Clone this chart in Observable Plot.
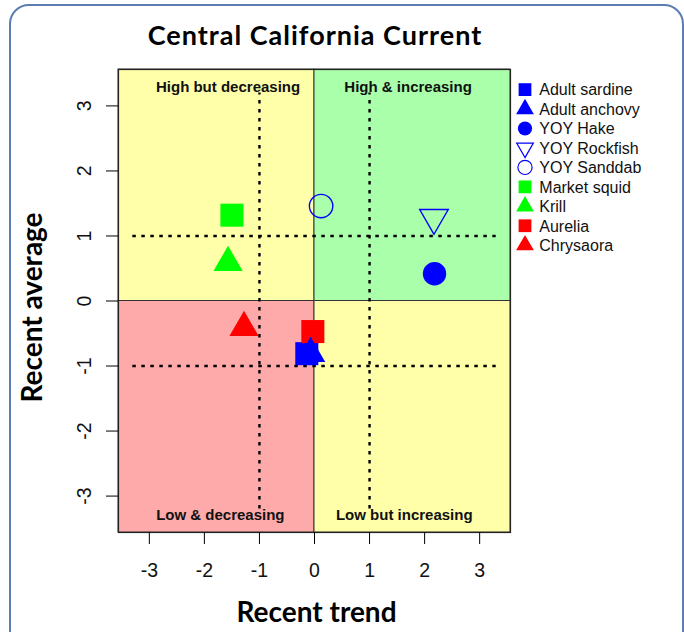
<!DOCTYPE html>
<html>
<head>
<meta charset="utf-8">
<script src="https://cdn.jsdelivr.net/npm/d3@7"></script>
<script src="https://cdn.jsdelivr.net/npm/@observablehq/plot@0.6"></script>
<style>
  html, body { margin: 0; padding: 0; background: #fff; }
  #wrap { position: relative; width: 684px; height: 632px; overflow: hidden; background: #fff; }
  #title {
    position: absolute; left: 119px; width: 392px; top: 21px;
    text-align: center; font-family: Lato, "Open Sans", sans-serif; font-weight: bold;
    font-size: 27px; line-height: 27px; letter-spacing: 1px; color: #000; white-space: nowrap;
  }
  #chart { position: absolute; left: 0; top: 61px; }
  #legend { position: absolute; left: 512px; top: 78px; }
  #border {
    position: absolute; left: 9px; top: 4px; width: 675px; height: 700px; box-sizing: border-box;
    border: 2px solid #5b7db1; border-radius: 20px; pointer-events: none;
  }
</style>
</head>
<body>
<div id="wrap">
  <div id="title">Central California Current</div>
  <div id="chart"></div>
  <div id="legend"></div>
  <div id="border"></div>
</div>
<script>
// Species indicators: recent trend (x) against recent average (y)
const species = ["Adult sardine", "Adult anchovy", "YOY Hake", "YOY Rockfish", "YOY Sanddab",
                 "Market squid", "Krill", "Aurelia", "Chrysaora"];
const recentTrend   = [-0.14, -0.07, 2.18, 2.17, 0.12, -1.50, -1.57, -0.03, -1.28];
const recentAverage = [-0.81, -0.81, 0.42, 1.28, 1.46, 1.32, 0.59, -0.47, -0.41];

const xTicks = [-3, -2, -1, 0, 1, 2, 3];
const yTicks = [-3, -2, -1, 0, 1, 2, 3];
const thresholds = [-1, 1];

const quadrantNames = ["High but decreasing", "High & increasing", "Low & decreasing", "Low but increasing"];

// Axis limits (symmetric about zero)
const lim = 3.56;

// Marker encoding per species
const marker = {
  "Adult sardine": {shape: "square", color: "#0000ff"},
  "Adult anchovy": {shape: "triangle", color: "#0000ff"},
  "YOY Hake":      {shape: "circle", color: "#0000ff"},
  "YOY Rockfish":  {shape: "triangleDown", color: "#0000ff", open: true},
  "YOY Sanddab":   {shape: "circle", color: "#0000ff", open: true},
  "Market squid":  {shape: "square", color: "#00ff00"},
  "Krill":         {shape: "triangle", color: "#00ff00"},
  "Aurelia":       {shape: "square", color: "#ff0000"},
  "Chrysaora":     {shape: "triangle", color: "#ff0000"}
};

// Downward-pointing triangle, same geometry as d3.symbolTriangle flipped
const symbolTriangleDown = {
  draw(context, size) {
    const s3 = Math.sqrt(3);
    const y = -Math.sqrt(size / (s3 * 3));
    context.moveTo(0, -y * 2);
    context.lineTo(-s3 * y, y);
    context.lineTo(s3 * y, y);
    context.closePath();
  }
};
const shapeNames = ["square", "triangle", "circle", "triangleDown"];
const shapeSymbols = [d3.symbolSquare, d3.symbolTriangle, d3.symbolCircle, symbolTriangleDown];
const shapeRadius = {square: 13, triangle: 10.85, circle: 11.7, triangleDown: 10.6};
const legendRadius = {square: 7.2, triangle: 6.6, circle: 7.1, triangleDown: 6.2};

const points = species.map((name, i) => ({name, trend: recentTrend[i], average: recentAverage[i]}));

const quadrants = [
  {x1: -lim, x2: 0, y1: 0, y2: lim, fill: "#ffffaa"},
  {x1: 0, x2: lim, y1: 0, y2: lim, fill: "#aaffaa"},
  {x1: -lim, x2: 0, y1: -lim, y2: 0, fill: "#ffaaaa"},
  {x1: 0, x2: lim, y1: -lim, y2: 0, fill: "#ffffaa"}
];
const quadrantLabelAt = [[-1.57, 3.29], [1.70, 3.29], [-1.71, -3.30], [1.63, -3.30]];
const quadrantLabels = quadrantNames.map((label, i) => ({label, x: quadrantLabelAt[i][0], y: quadrantLabelAt[i][1]}));

const titleFont = "Lato, 'Open Sans', sans-serif";

const chart = Plot.plot({
  width: 684,
  height: 571,
  marginLeft: 118,
  marginRight: 174,
  marginTop: 8,
  marginBottom: 100,
  x: {domain: [-lim, lim]},
  y: {domain: [-lim, lim]},
  symbol: {domain: shapeNames, range: shapeSymbols},
  r: {type: "linear", domain: [0, 100], range: [0, 100]},
  color: {type: "identity"},
  style: {fontFamily: "'Liberation Sans', Arial, sans-serif", background: "transparent", color: "#000"},
  marks: [
    Plot.rect(quadrants, {x1: "x1", x2: "x2", y1: "y1", y2: "y2", fill: "fill", stroke: "#333", strokeWidth: 1}),
    Plot.ruleX(thresholds, {x: d => d, y1: -3.2, y2: 3.2, stroke: "#000", strokeWidth: 2.4, strokeDasharray: "3.5,5.5"}),
    Plot.ruleY(thresholds, {y: d => d, x1: -3.3, x2: 3.3, stroke: "#000", strokeWidth: 2.4, strokeDasharray: "3.5,5.5"}),
    Plot.text(quadrantLabels, {x: "x", y: "y", text: "label", fontSize: 15, fontWeight: "bold", fill: "#111"}),
    Plot.dot(points, {
      x: "trend", y: "average",
      symbol: d => marker[d.name].shape,
      r: d => shapeRadius[marker[d.name].shape],
      fill: d => marker[d.name].open ? "none" : marker[d.name].color,
      stroke: d => marker[d.name].open ? marker[d.name].color : "none",
      strokeWidth: 1.4
    }),
    Plot.frame({stroke: "#222", strokeWidth: 1.2}),
    Plot.axisX({ticks: xTicks, tickSize: 12, tickPadding: 19, tickFormat: d => String(d), fontSize: 19.5, label: null, fill: "#111"}),
    Plot.axisY({ticks: yTicks, tickSize: 12, tickPadding: 16, tickRotate: -90, tickFormat: d => String(d), fontSize: 19.5, label: null, fill: "#111"}),
    Plot.text(["Recent trend"], {frameAnchor: "bottom", lineAnchor: "bottom", textAnchor: "middle", dx: 2, dy: 89, fontSize: 28, fontWeight: "bold", fontFamily: titleFont, letterSpacing: 0.8, fill: "#000"}),
    Plot.text(["Recent average"], {frameAnchor: "left", lineAnchor: "top", textAnchor: "middle", rotate: -90, dx: -96, dy: 6.5, fontSize: 28, fontWeight: "bold", fontFamily: titleFont, letterSpacing: 0.8, fill: "#000"})
  ]
});
document.getElementById("chart").appendChild(chart);

// Legend: one row per species, symbol then name
const legend = d3.select("#legend").append("svg").attr("width", 172).attr("height", 180)
  .style("font-family", "'Liberation Sans', Arial, sans-serif");
const symbolOf = Object.fromEntries(shapeNames.map((s, i) => [s, shapeSymbols[i]]));
species.forEach((name, i) => {
  const m = marker[name];
  const r = legendRadius[m.shape];
  const row = legend.append("g").attr("transform", `translate(13,${11.6 + i * 19.45})`);
  row.append("path")
    .attr("d", d3.symbol(symbolOf[m.shape], Math.PI * r * r)())
    .attr("fill", m.open ? "none" : m.color)
    .attr("stroke", m.open ? m.color : "none")
    .attr("stroke-width", 1.2);
  row.append("text").attr("x", 14.3).attr("dy", "0.36em")
    .attr("font-size", 16).attr("fill", "#111").text(name);
});
</script>
</body>
</html>
